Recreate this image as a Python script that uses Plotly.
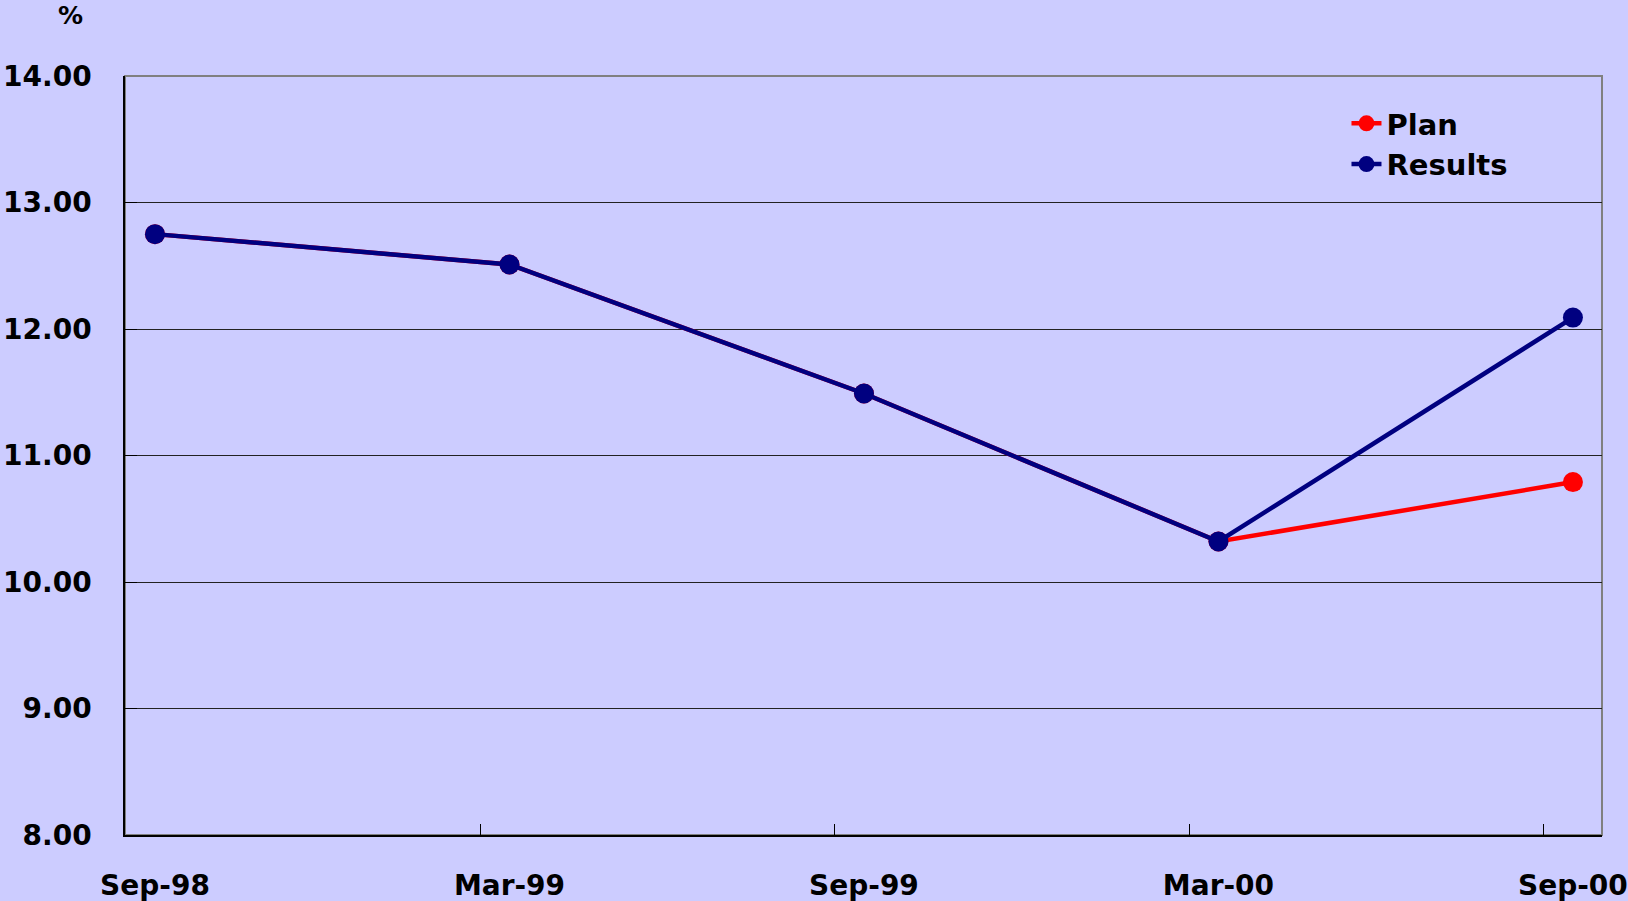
import plotly.graph_objects as go

categories = ["Sep-98", "Mar-99", "Sep-99", "Mar-00", "Sep-00"]
plan = [12.75, 12.51, 11.49, 10.32, 10.79]
results = [12.75, 12.51, 11.49, 10.32, 12.09]
y_ticks = [8, 9, 10, 11, 12, 13, 14]
y_labels = ["8.00", "9.00", "10.00", "11.00", "12.00", "13.00", "14.00"]

xpos = list(range(len(categories)))
boundary_ticks = [i + 0.918 for i in range(len(categories) - 1)]

BG = "#CCCCFF"
FONT = "DejaVu Sans"

fig = go.Figure()
fig.add_trace(go.Scatter(
    x=xpos, y=plan, name="Plan", mode="lines+markers",
    line=dict(color="#FF0000", width=4.5),
    marker=dict(color="#FF0000", size=20),
))
fig.add_trace(go.Scatter(
    x=xpos, y=results, name="Results", mode="lines+markers",
    line=dict(color="#000080", width=4.5),
    marker=dict(color="#000080", size=20),
))

# plot-area frame (grey top/right edges), drawn beneath the black axis lines
fig.add_shape(
    type="rect", xref="x domain", yref="y domain", x0=0, x1=1, y0=0, y1=1,
    line=dict(color="#808080", width=2), layer="below",
)

fig.update_layout(
    width=1628, height=901,
    margin=dict(l=125, r=26, t=76, b=66, autoexpand=False),
    paper_bgcolor=BG, plot_bgcolor=BG,
    font=dict(family=FONT, size=29, color="black", weight="bold"),
    showlegend=True,
    legend=dict(
        x=0.827, y=0.971, xanchor="left", yanchor="top",
        bgcolor="rgba(0,0,0,0)", borderwidth=0,
        font=dict(family=FONT, size=29, color="black", weight="bold"),
        tracegroupgap=0,
    ),
    xaxis=dict(
        range=[-0.0846, 4.082],
        tickmode="array", tickvals=xpos, ticktext=categories,
        ticks="", showgrid=False, zeroline=False,
        showline=True, linecolor="black", linewidth=1.5,
        ticklabelstandoff=25, ticklabeloverflow="allow",
        automargin=False,
        tickfont=dict(family=FONT, size=28, weight="bold"),
        minor=dict(tickmode="array", tickvals=boundary_ticks, ticks="inside",
                   ticklen=11, tickcolor="black", tickwidth=1, showgrid=False),
    ),
    yaxis=dict(
        range=[8, 14],
        tickmode="array", tickvals=y_ticks, ticktext=y_labels,
        ticks="inside", ticklen=12, tickcolor="black",
        showgrid=True, gridcolor="#222222", gridwidth=1,
        zeroline=False,
        showline=True, linecolor="black", linewidth=1.5,
        ticklabelstandoff=26, automargin=False,
        tickfont=dict(family=FONT, size=28, weight="bold"),
    ),
)

fig.add_annotation(
    text="%", xref="paper", yref="paper", x=-0.0372, y=1.08,
    xanchor="center", yanchor="middle", showarrow=False,
    font=dict(family=FONT, size=25, color="black", weight="bold"),
)

fig.write_html(
    "out.html",
    config={"displayModeBar": False},
    post_script="document.body.style.margin='0';",
)
